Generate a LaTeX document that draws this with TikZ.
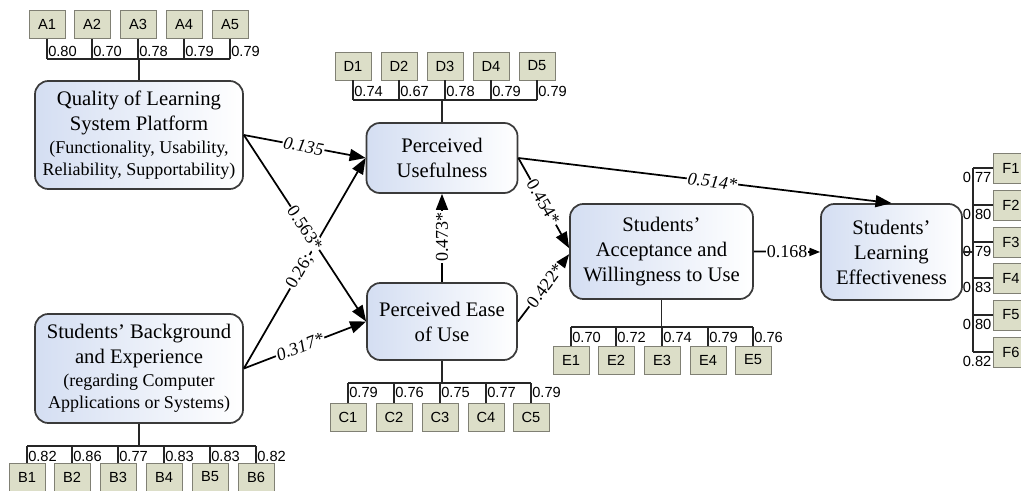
\documentclass[tikz,border=0pt]{standalone}
\usepackage{fontspec}
\setmainfont{Liberation Serif}
\setsansfont{Liberation Sans}
\usetikzlibrary{arrows.meta}

\definecolor{indfill}{RGB}{220,222,200}
\definecolor{inddraw}{RGB}{128,128,116}
\definecolor{boxblue}{RGB}{212,222,242}
\definecolor{boxdraw}{RGB}{58,58,58}

\newcommand{\subtxt}[1]{{\fontsize{13.5}{16.5}\selectfont #1}}

\begin{document}
\begin{tikzpicture}[x=0.75pt,y=0.75pt,yscale=-1,xscale=1,
	construct/.style={draw=boxdraw, line width=1.3pt, rounded corners=10pt, left color=boxblue, right color=white, align=center, inner sep=0pt, font=\fontsize{15.5}{18.75}\selectfont},
	ind/.style={draw=inddraw, fill=indfill, line width=0.6pt, minimum width=27pt, minimum height=21pt, inner sep=0pt, font=\sffamily\fontsize{11}{13}\selectfont},
	load/.style={inner sep=0.75pt, font=\sffamily\fontsize{11}{13}\selectfont},
	link/.style={draw=black!85, line width=0.8pt},
	pathline/.style={-{Triangle[length=12pt,width=9pt]}, line width=1.3pt},
	coef/.style={fill=white, inner sep=0.75pt, font=\fontsize{13.5}{16}\selectfont}]
	%uncomment if require: \path (0,491);
	\useasboundingbox (0,0) rectangle (1021,491);

	% Constructs
	\node [construct, minimum width=156pt, minimum height=81pt] (qual) at (139,135) {Quality of Learning\\System Platform\\[-1.5pt]\subtxt{(Functionality, Usability,}\\[-2.25pt]\subtxt{Reliability, Supportability)}};
	\node [construct, minimum width=156pt, minimum height=81.75pt] (back) at (139,368.5) {Students’ Background\\and Experience\\[-1.5pt]\subtxt{(regarding Computer}\\[-2.25pt]\subtxt{Applications or Systems)}};
	\node [construct, minimum width=113.25pt, minimum height=52.5pt] (pu) at (442,158) {Perceived\\Usefulness};
	\node [construct, minimum width=112.5pt, minimum height=57.75pt] (peu) at (442,321.5) {Perceived Ease\\of Use};
	\node [construct, minimum width=137.25pt, minimum height=71.25pt] (accept) at (661.5,251.5) {Students’\\Acceptance and\\Willingness to Use};
	\node [construct, minimum width=105.75pt, minimum height=72pt] (effect) at (891.5,252) {Students’\\Learning\\Effectiveness};

	% Indicator bars
	\coordinate (aBar) at (138,59);
	\coordinate (dBar) at (442,100);
	\coordinate (cBar) at (442,383);
	\coordinate (eBar) at (662,327);
	\coordinate (bBar) at (138,446);
	\coordinate (fBar) at (973,252);

	% A indicators
	\foreach \i/\x/\v in {1/47/0.80,2/92/0.70,3/138/0.78,4/184/0.79,5/230/0.79}{
		\node [ind] (A\i) at (\x,24.5) {A\i};
		\node [load, anchor=west] (lA\i) at (\x,51) {\v};
		\draw [link] (A\i) -- (A\i |- aBar);
	}
	\draw [link] (A1 |- aBar) -- (A5 |- aBar) (qual.north |- aBar) -- (qual.north);

	% D indicators
	\foreach \i/\x/\v in {1/353/0.74,2/399/0.67,3/445/0.78,4/491/0.79,5/537/0.79}{
		\node [ind] (D\i) at (\x,66) {D\i};
		\node [load, anchor=west] (lD\i) at (\x,91) {\v};
		\draw [link] (D\i) -- (D\i |- dBar);
	}
	\draw [link] (D1 |- dBar) -- (D5 |- dBar) (pu.north |- dBar) -- (pu.north);

	% C indicators
	\foreach \i/\x/\v in {1/348/0.79,2/394/0.76,3/440/0.75,4/486/0.77,5/531/0.79}{
		\node [ind] (C\i) at (\x,417) {C\i};
		\node [load, anchor=west] (lC\i) at (\x,392) {\v};
		\draw [link] (C\i) -- (C\i |- cBar);
	}
	\draw [link] (C1 |- cBar) -- (C5 |- cBar) (peu.south |- cBar) -- (peu.south);

	% E indicators
	\foreach \i/\x/\v in {1/571/0.70,2/616/0.72,3/662/0.74,4/708/0.79,5/753/0.76}{
		\node [ind] (E\i) at (\x,360) {E\i};
		\node [load, anchor=west] (lE\i) at (\x,337) {\v};
		\draw [link] (E\i) -- (E\i |- eBar);
	}
	\draw [link] (E1 |- eBar) -- (E5 |- eBar) (accept.south |- eBar) -- (accept.south);

	% B indicators
	\foreach \i/\x/\v in {1/27/0.82,2/72/0.86,3/118/0.77,4/164/0.83,5/210/0.83,6/256/0.82}{
		\node [ind] (B\i) at (\x,477) {B\i};
		\node [load, anchor=west] (lB\i) at (\x,456.5) {\v};
		\draw [link] (B\i) -- (B\i |- bBar);
	}
	\draw [link] (B1 |- bBar) -- (B6 |- bBar) (back.south |- bBar) -- (back.south);

	% F indicators
	\foreach \i/\y/\v in {1/168/0.77,2/205/0.80,3/242/0.79,4/278/0.83,5/315/0.80,6/352/0.82}{
		\node [ind, minimum height=22.5pt] (F\i) at (1011,\y) {F\i};
		\node [load, anchor=east] (lF\i) at ([yshift=7pt]F\i.west) {\v};
		\draw [link] (F\i) -- (F\i -| fBar);
	}
	\draw [link] (F1 -| fBar) -- (F6 -| fBar) (effect.east) -- (effect.east -| fBar);

	% Paths
	\draw [pathline] (qual.east) -- node [coef, pos=0.49, rotate=-10.6] (p1) {\itshape 0.135} (pu.west);
	\draw [pathline] (back.east) -- node [coef, pos=0.46, rotate=59.6] (p3) {0.26;} (pu.west);
	\draw [pathline] (qual.east) -- node [coef, pos=0.5, rotate=-56.3] (p2) {0.563*} (peu.west);
	\draw [pathline] (back.east) -- node [coef, pos=0.46, rotate=20.8] (p4) {\itshape 0.317*} (peu.west);
	\draw [pathline] (peu.north) -- node [coef, pos=0.51, rotate=90] (p5) {0.473*} (pu.south);
	\draw [pathline] (pu.east) -- node [coef, pos=0.49, rotate=-59.9] (p6) {0.454*} ([yshift=-2.5pt]accept.west);
	\draw [pathline] (peu.east) -- node [coef, pos=0.53, rotate=53.5] (p7) {0.422*} ([yshift=2pt]accept.west);
	\draw [pathline] (pu.east) -- node [coef, pos=0.52, rotate=-7] (p8) {\itshape 0.514*} (effect.north);
	\draw [-{Triangle[length=8pt,width=6pt]}, line width=1.3pt] (accept.east) -- node [coef, pos=0.5] (p9) {0.168} (effect.west);
\end{tikzpicture}
\end{document}
